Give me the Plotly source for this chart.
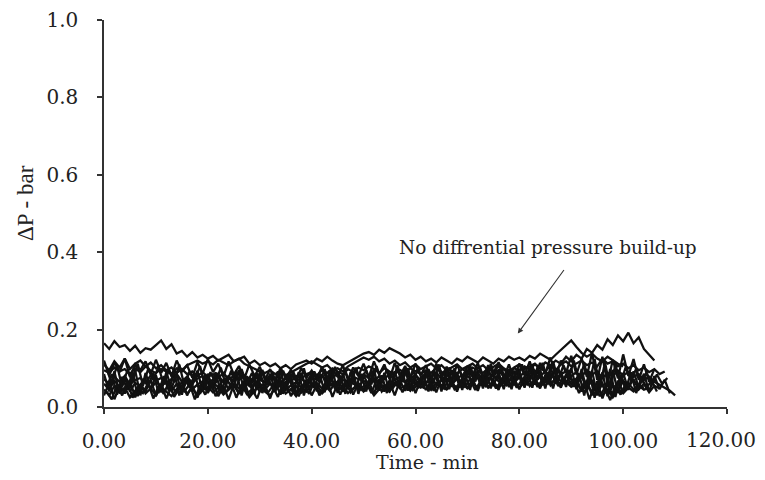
import plotly.graph_objects as go

# time in minutes (one reading per minute; some runs sampled on the half minute)
time_min = list(range(0, 112))
time_half = [t + 0.5 for t in range(0, 112)]

run_1 = [0.165,0.150,0.170,0.155,0.160,0.145,0.158,0.140,0.152,0.148,0.160,
         0.172,0.150,0.162,0.138,0.145,0.130,0.142,0.128,0.135,0.125,
         0.132,0.120,0.128,0.135,0.118,0.125,0.130,0.112,0.120,0.108,
         0.115,0.105,0.112,0.100,0.108,0.098,0.110,0.115,0.120,0.112,
         0.125,0.118,0.130,0.120,0.112,0.108,0.115,0.122,0.130,0.138,
         0.142,0.135,0.148,0.140,0.152,0.145,0.138,0.128,0.135,0.122,
         0.130,0.118,0.125,0.115,0.128,0.120,0.112,0.125,0.118,0.130,
         0.122,0.115,0.128,0.120,0.112,0.125,0.118,0.130,0.122,0.128,
         0.120,0.132,0.125,0.138,0.130,0.122,0.135,0.148,0.160,0.172,
         0.155,0.140,0.130,0.138,0.125,0.118,0.130,0.120,0.112,0.105]

run_2 = [0.095,0.088,0.102,0.092,0.098,0.085,0.100,0.090,0.105,0.094,0.088,
         0.098,0.092,0.086,0.100,0.094,0.108,0.115,0.120,0.112,0.118,
         0.110,0.122,0.115,0.108,0.118,0.125,0.112,0.105,0.098,0.092,
         0.088,0.095,0.085,0.092,0.082,0.090,0.098,0.105,0.112,0.118,
         0.110,0.102,0.108,0.095,0.100,0.092,0.105,0.112,0.120,0.128,
         0.122,0.130,0.118,0.125,0.112,0.120,0.108,0.115,0.102,0.110,
         0.098,0.105,0.112,0.100,0.108,0.095,0.102,0.110,0.098,0.105,
         0.112,0.100,0.108,0.095,0.104,0.112,0.100,0.092,0.102,0.110,
         0.098,0.105,0.112,0.100,0.115,0.108,0.095,0.110,0.118,0.105,
         0.112,0.120,0.108,0.115,0.105,0.125,0.112,0.118,0.105,0.112,
         0.100,0.108,0.095,0.102,0.090,0.098,0.085,0.092]

run_3 = [0.072,0.060,0.078,0.065,0.080,0.058,0.070,0.075,0.062,0.082,0.068,
         0.075,0.060,0.072,0.085,0.066,0.078,0.062,0.074,0.080,0.065,
         0.070,0.082,0.064,0.076,0.068,0.088,0.072,0.060,0.078,0.070,
         0.065,0.080,0.072,0.062,0.076,0.084,0.068,0.074,0.060,0.078,
         0.070,0.082,0.066,0.075,0.088,0.070,0.062,0.078,0.072,0.085,
         0.074,0.066,0.080,0.072,0.086,0.070,0.078,0.092,0.075,0.082,
         0.070,0.085,0.076,0.090,0.072,0.080,0.088,0.074,0.082,0.094,
         0.078,0.086,0.072,0.090,0.080,0.095,0.078,0.085,0.092,0.080,
         0.088,0.076,0.094,0.082,0.090,0.078,0.096,0.085,0.092,0.080,
         0.090,0.078,0.096,0.084,0.092,0.075,0.088,0.080,0.094,0.082,
         0.090,0.078,0.085,0.070,0.078,0.065,0.058,0.050,0.042,0.030]

run_4 = [0.045,0.030,0.055,0.038,0.050,0.025,0.042,0.058,0.035,0.048,0.030,
         0.052,0.040,0.028,0.046,0.055,0.035,0.048,0.030,0.044,0.052,
         0.038,0.050,0.032,0.045,0.056,0.036,0.048,0.025,0.042,0.054,
         0.040,0.030,0.048,0.055,0.035,0.046,0.028,0.052,0.040,0.058,
         0.045,0.035,0.050,0.060,0.042,0.054,0.036,0.048,0.058,0.040,
         0.052,0.030,0.046,0.056,0.040,0.062,0.048,0.055,0.042,0.060,
         0.050,0.058,0.044,0.062,0.052,0.045,0.060,0.050,0.064,0.048,
         0.058,0.052,0.066,0.050,0.060,0.054,0.068,0.056,0.062,0.050,
         0.064,0.058,0.070,0.055,0.066,0.060,0.072,0.058,0.065,0.052,
         0.060,0.045,0.055,0.040,0.050,0.030,0.045,0.025,0.048,0.035,
         0.050,0.040,0.055,0.045,0.050]

run_5 = [0.110,0.095,0.118,0.102,0.125,0.098,0.112,0.120,0.105,0.115,0.100,
         0.108,0.095,0.102,0.088,0.098,0.085,0.092,0.080,0.090,0.078,
         0.085,0.075,0.088,0.072,0.080,0.070,0.082,0.068,0.078,0.072,
         0.065,0.076,0.070,0.062,0.074,0.066,0.080,0.072,0.085,0.090,
         0.082,0.095,0.088,0.100,0.092,0.085,0.098,0.090,0.102,0.095,
         0.105,0.098,0.088,0.100,0.092,0.085,0.096,0.088,0.100,0.092,
         0.085,0.095,0.088,0.100,0.090,0.082,0.094,0.086,0.098,0.090,
         0.102,0.094,0.088,0.100,0.092,0.105,0.096,0.088,0.100,0.094,
         0.105,0.098,0.110,0.100,0.092,0.108,0.120,0.112,0.130,0.118,
         0.135,0.125,0.150,0.140,0.160,0.148,0.175,0.160,0.185,0.170,
         0.192,0.165,0.180,0.150,0.135,0.120]

run_6 = [0.060,0.045,0.068,0.052,0.075,0.040,0.062,0.055,0.070,0.048,0.064,
         0.055,0.070,0.042,0.060,0.050,0.072,0.046,0.058,0.066,0.040,
         0.062,0.052,0.070,0.045,0.058,0.048,0.066,0.054,0.072,0.050,
         0.046,0.060,0.052,0.068,0.044,0.056,0.064,0.050,0.070,0.058,
         0.062,0.048,0.070,0.055,0.066,0.050,0.072,0.060,0.054,0.068,
         0.058,0.074,0.062,0.050,0.068,0.056,0.072,0.064,0.078,0.060,
         0.070,0.062,0.076,0.058,0.068,0.074,0.060,0.072,0.066,0.080,
         0.068,0.076,0.062,0.074,0.082,0.066,0.078,0.070,0.064,0.076,
         0.070,0.082,0.066,0.078,0.072,0.086,0.074,0.068,0.080,0.072,
         0.064,0.078,0.050,0.070,0.035,0.060,0.030,0.055,0.040,0.068,
         0.050,0.072,0.045,0.060,0.038,0.055,0.048]

run_7 = [0.085,0.040,0.092,0.035,0.078,0.050,0.095,0.030,0.088,0.045,0.082,
         0.038,0.090,0.048,0.085,0.032,0.080,0.055,0.094,0.040,0.086,
         0.045,0.088,0.036,0.082,0.052,0.096,0.042,0.078,0.034,0.090,
         0.050,0.086,0.038,0.094,0.044,0.080,0.030,0.088,0.048,0.092,
         0.040,0.084,0.052,0.098,0.036,0.086,0.046,0.090,0.034,0.082,
         0.054,0.096,0.042,0.088,0.038,0.092,0.050,0.100,0.044,0.086,
         0.056,0.094,0.046,0.090,0.040,0.098,0.052,0.088,0.044,0.096,
         0.058,0.092,0.048,0.100,0.054,0.090,0.046,0.098,0.056,0.094,
         0.050,0.102,0.058,0.096,0.048,0.104,0.060,0.092,0.052,0.100,
         0.046,0.098,0.040,0.094,0.030,0.090,0.028,0.096,0.036,0.088,
         0.044,0.092,0.050,0.086,0.040,0.080,0.046,0.070,0.035]

run_8 = [0.120,0.082,0.115,0.090,0.125,0.078,0.110,0.095,0.118,0.085,0.122,
         0.088,0.114,0.080,0.120,0.092,0.108,0.076,0.116,0.086,0.124,
         0.090,0.112,0.078,0.118,0.084,0.106,0.072,0.110,0.080,0.104,
         0.070,0.098,0.064,0.102,0.074,0.096,0.068,0.100,0.076,0.094,
         0.072,0.104,0.066,0.098,0.078,0.108,0.070,0.102,0.080,0.112,
         0.076,0.118,0.084,0.110,0.072,0.114,0.080,0.106,0.074,0.112,
         0.082,0.108,0.070,0.112,0.078,0.104,0.068,0.110,0.076,0.106,
         0.080,0.114,0.072,0.108,0.084,0.116,0.076,0.110,0.070,0.112,
         0.082,0.118,0.076,0.114,0.086,0.128,0.080,0.120,0.088,0.132,
         0.084,0.126,0.078,0.140,0.070,0.130,0.060,0.122,0.074,0.136,
         0.080,0.124,0.070,0.110,0.065,0.098]

run_9 = [0.030,0.062,0.020,0.055,0.035,0.068,0.025,0.058,0.040,0.070,0.028,
         0.060,0.022,0.052,0.038,0.066,0.030,0.056,0.024,0.062,0.036,
         0.064,0.028,0.054,0.020,0.058,0.034,0.068,0.026,0.060,0.040,
         0.056,0.022,0.062,0.032,0.066,0.028,0.054,0.038,0.064,0.030,
         0.058,0.036,0.068,0.026,0.060,0.040,0.070,0.032,0.062,0.044,
         0.066,0.034,0.072,0.040,0.064,0.030,0.068,0.042,0.074,0.036,
         0.070,0.044,0.066,0.038,0.074,0.046,0.068,0.040,0.076,0.048,
         0.072,0.042,0.078,0.050,0.070,0.044,0.080,0.052,0.074,0.046,
         0.078,0.054,0.072,0.048,0.082,0.056,0.076,0.050,0.084,0.058,
         0.074,0.040,0.070,0.030,0.066,0.022,0.060,0.028,0.068,0.038,
         0.062,0.045,0.058,0.050]

run_10 = [0.050,0.085,0.032,0.078,0.045,0.090,0.028,0.072,0.055,0.088,0.036,
          0.080,0.042,0.092,0.030,0.074,0.050,0.086,0.034,0.082,0.046,
          0.090,0.038,0.076,0.052,0.094,0.030,0.080,0.044,0.088,0.036,
          0.078,0.048,0.092,0.034,0.084,0.040,0.090,0.030,0.076,0.050,
          0.088,0.038,0.094,0.046,0.080,0.034,0.090,0.052,0.086,0.040,
          0.096,0.044,0.082,0.036,0.092,0.054,0.088,0.042,0.098,0.048,
          0.084,0.040,0.094,0.056,0.090,0.046,0.100,0.050,0.086,0.044,
          0.096,0.058,0.092,0.048,0.102,0.054,0.088,0.046,0.098,0.060,
          0.094,0.050,0.104,0.056,0.090,0.048,0.100,0.062,0.096,0.052,
          0.086,0.030,0.092,0.024,0.080,0.040,0.098,0.026,0.084,0.044,
          0.090,0.036,0.076,0.050,0.068,0.040]

run_11 = [0.100,0.060,0.108,0.052,0.095,0.066,0.112,0.055,0.098,0.070,0.104,
          0.058,0.096,0.064,0.110,0.054,0.092,0.068,0.106,0.050,0.090,
          0.062,0.102,0.056,0.094,0.048,0.098,0.060,0.088,0.052,0.096,
          0.058,0.086,0.050,0.094,0.062,0.090,0.054,0.100,0.046,0.092,
          0.064,0.098,0.056,0.104,0.060,0.094,0.052,0.102,0.066,0.096,
          0.058,0.106,0.062,0.098,0.054,0.108,0.068,0.100,0.060,0.104,
          0.056,0.098,0.064,0.110,0.058,0.102,0.070,0.096,0.062,0.108,
          0.066,0.100,0.058,0.112,0.068,0.104,0.060,0.098,0.072,0.110,
          0.064,0.106,0.070,0.114,0.062,0.118,0.068,0.108,0.074,0.120,
          0.066,0.112,0.058,0.124,0.050,0.116,0.046,0.110,0.060,0.104,
          0.070,0.098,0.062,0.090,0.056,0.084,0.060,0.075]

run_12 = [0.040,0.020,0.058,0.030,0.066,0.024,0.050,0.036,0.062,0.022,0.054,
          0.034,0.064,0.026,0.048,0.040,0.060,0.020,0.056,0.032,0.066,
          0.028,0.052,0.038,0.062,0.024,0.058,0.034,0.046,0.022,0.060,
          0.036,0.054,0.026,0.064,0.040,0.050,0.028,0.058,0.034,0.066,
          0.030,0.056,0.042,0.062,0.032,0.068,0.038,0.054,0.044,0.064,
          0.036,0.070,0.040,0.058,0.046,0.066,0.038,0.072,0.044,0.060,
          0.050,0.070,0.042,0.064,0.048,0.074,0.046,0.062,0.052,0.072,
          0.044,0.066,0.054,0.076,0.048,0.068,0.056,0.078,0.050,0.070,
          0.058,0.080,0.052,0.072,0.060,0.082,0.054,0.074,0.062,0.070,
          0.036,0.064,0.020,0.058,0.028,0.050,0.018,0.056,0.032,0.060]

runs_whole = [run_1, run_2, run_3, run_4, run_5, run_6, run_7, run_8, run_9]
runs_half = [run_10, run_11, run_12]

x_ticks = [0, 20, 40, 60, 80, 100, 120]
y_ticks = [0.0, 0.2, 0.4, 0.6, 0.8, 1.0]
x_tick_labels = [f"{v:.2f}" for v in x_ticks]

FONT = "DejaVu Serif"
TITLE_FONT = "Liberation Serif"
INK = "#222222"

fig = go.Figure()
for vals in runs_whole:
    fig.add_trace(go.Scatter(
        x=time_min[:len(vals)], y=vals, mode="lines",
        line=dict(color="#111111", width=2.3),
        showlegend=False, hoverinfo="skip"))
for vals in runs_half:
    fig.add_trace(go.Scatter(
        x=time_half[:len(vals)], y=vals, mode="lines",
        line=dict(color="#111111", width=2.3),
        showlegend=False, hoverinfo="skip"))

fig.add_annotation(x=85.5, y=0.413, xref="x", yref="y",
                   text="No diffrential pressure build-up", showarrow=False,
                   font=dict(family=FONT, size=18.5, color=INK))
fig.add_annotation(x=79.7, y=0.19, ax=88.8, ay=0.358, xref="x", yref="y",
                   axref="x", ayref="y", text="", showarrow=True,
                   arrowhead=2, arrowsize=1, arrowwidth=1.1, arrowcolor="#333333")

# last x tick label, nudged left so it stays inside the page
fig.add_annotation(x=x_ticks[-1], y=0, xref="x", yref="paper",
                   xanchor="center", yanchor="middle", xshift=-6, yshift=-33,
                   text=x_tick_labels[-1], showarrow=False,
                   font=dict(family=FONT, size=20, color=INK))

# axis titles
fig.add_annotation(x=0.52, y=-0.142, xref="paper", yref="paper",
                   xanchor="center", yanchor="middle",
                   text="Time - min", showarrow=False,
                   font=dict(family=FONT, size=19, color=INK))
fig.add_annotation(x=-0.127, y=0.527, xref="paper", yref="paper",
                   xanchor="center", yanchor="middle",
                   text="ΔP - bar", showarrow=False, textangle=-90,
                   font=dict(family=TITLE_FONT, size=23, color=INK))

fig.update_layout(
    width=757, height=464,
    margin=dict(l=96, r=38, t=12, b=65),
    paper_bgcolor="white", plot_bgcolor="white",
    font=dict(family=FONT, color=INK),
)
fig.update_xaxes(range=[0, 120], tickvals=x_ticks,
                 ticktext=x_tick_labels[:-1] + [""],
                 automargin=False,
                 showgrid=False, zeroline=False, showline=True,
                 linecolor="#333333", linewidth=1.5,
                 ticks="outside", ticklen=5, tickcolor="#333333", tickwidth=1.5,
                 ticklabelstandoff=10,
                 tickfont=dict(family=FONT, size=20, color=INK))
fig.update_yaxes(range=[0, 1.0], tickvals=y_ticks,
                 ticktext=[f"{v:.1f}" for v in y_ticks],
                 automargin=False,
                 showgrid=False, zeroline=False, showline=True,
                 linecolor="#333333", linewidth=1.5,
                 ticks="outside", ticklen=5, tickcolor="#333333", tickwidth=1.5,
                 ticklabelstandoff=15,
                 tickfont=dict(family=FONT, size=20, color=INK))

fig.write_html("out.html")
